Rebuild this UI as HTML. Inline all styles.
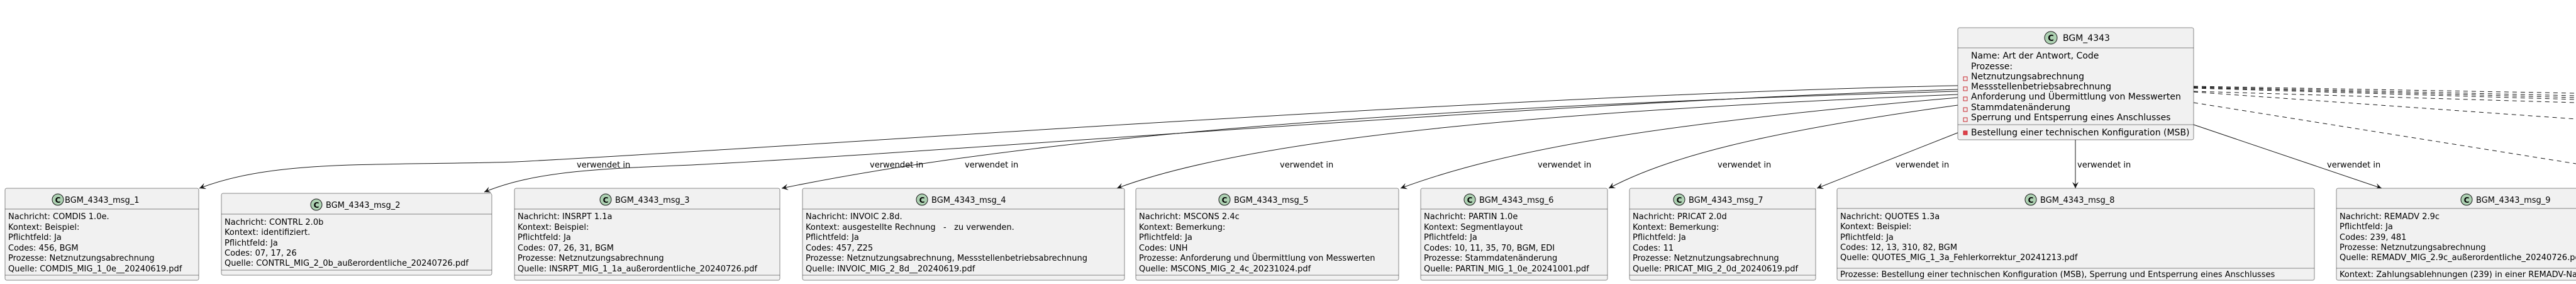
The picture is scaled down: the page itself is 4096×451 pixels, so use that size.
<!DOCTYPE html>
<html><head><meta charset="utf-8"><style>
html,body{margin:0;padding:0;background:#fff;}
svg{display:block;}
text{font-family:"DejaVu Sans","Liberation Sans",sans-serif;fill:#000;}
.b{fill:#F1F1F1;stroke:#181818;stroke-width:0.5;}
.s{stroke:#181818;stroke-width:0.5;}
.t{font-size:13px;}
.h{font-size:14px;}
.l{font-size:13px;}
.c{fill:none;stroke:#181818;stroke-width:1;}
.d{fill:none;stroke:#181818;stroke-width:1;stroke-dasharray:7,6;}
</style></head><body>
<svg width="4096" height="451" viewBox="0 0 4096 451" xmlns="http://www.w3.org/2000/svg">
<defs>
<marker id="a" markerWidth="12" markerHeight="10" refX="10" refY="5" orient="auto" markerUnits="userSpaceOnUse">
<path d="M0,0 L10,5 L0,10 L4,5 z" fill="#181818"/>
</marker>
</defs>

<!-- connectors -->
<path class="c" marker-end="url(#a)" d="M3113,136 C2400,150 1300,232 820,257 C600,264 440,252 317,299"/>
<path class="c" marker-end="url(#a)" d="M3113,142 C2500,160 1500,242 1100,262 C950,268 850,272 770,305"/>
<path class="c" marker-end="url(#a)" d="M3113,145 C2400,165 1700,205 1243,299"/>
<path class="c" marker-end="url(#a)" d="M3113,150 C2500,175 2000,215 1776,299"/>
<path class="c" marker-end="url(#a)" d="M3113,155 C2650,195 2400,235 2227,299"/>
<path class="c" marker-end="url(#a)" d="M3113,167 C2800,210 2650,250 2558,299"/>
<path class="c" marker-end="url(#a)" d="M3115,210 L2889,299"/>
<path class="c" marker-end="url(#a)" d="M3300,222 L3300,299"/>
<path class="c" marker-end="url(#a)" d="M3488,198 L3787,299"/>

<path class="d" d="M3488,137 L4096,148"/>
<path class="d" d="M3488,138 L4096,152"/>
<path class="d" d="M3488,139 L4096,155"/>
<path class="d" d="M3488,140 L4096,158"/>
<path class="d" d="M3488,145 L4096,163"/>
<path class="d" d="M3488,146 L4096,189"/>
<path class="d" d="M3488,163 L4096,260"/>

<g class="l">
<text x="917" y="266">verwendet in</text>
<text x="1383" y="266">verwendet in</text>
<text x="1534" y="266">verwendet in</text>
<text x="2035" y="266">verwendet in</text>
<text x="2445" y="266">verwendet in</text>
<text x="2731" y="266">verwendet in</text>
<text x="3014" y="266">verwendet in</text>
<text x="3303" y="266">verwendet in</text>
<text x="3700" y="266">verwendet in</text>
</g>

<!-- main box -->
<rect class="b" x="3113" y="44" width="375" height="178" rx="2.5"/>
<line class="s" x1="3113" y1="76" x2="3488" y2="76"/>
<line class="s" x1="3113" y1="198" x2="3488" y2="198"/>
<circle cx="3261" cy="60" r="10" fill="#ADD1B2" stroke="#181818" stroke-width="1"/>
<text x="3261" y="65" text-anchor="middle" style="font-size:13px;font-weight:bold">C</text>
<text class="h" x="3280" y="65">BGM_4343</text>
<g class="h">
<text x="3134" y="93">Name: Art der Antwort, Code</text>
<text x="3134" y="110">Prozesse:</text>
<text x="3134" y="126">Netznutzungsabrechnung</text>
<text x="3134" y="142">Messstellenbetriebsabrechnung</text>
<text x="3134" y="158">Anforderung und Übermittlung von Messwerten</text>
<text x="3134" y="175">Stammdatenänderung</text>
<text x="3134" y="191">Sperrung und Entsperrung eines Anschlusses</text>
<text x="3134" y="215">Bestellung einer technischen Konfiguration (MSB)</text>
</g>
<g fill="none" stroke="#C82930" stroke-width="1">
<rect x="3122" y="122" width="6" height="6"/>
<rect x="3122" y="138" width="6" height="6"/>
<rect x="3122" y="154" width="6" height="6"/>
<rect x="3122" y="171" width="6" height="6"/>
<rect x="3122" y="187" width="6" height="6"/>
</g>
<rect x="3122" y="208" width="6" height="6" fill="#E0404A" stroke="#C82930"/>

<!-- msg_1 -->
<rect class="b" x="8" y="299" width="308" height="146" rx="2.5"/>
<line class="s" x1="8" y1="332" x2="316" y2="332"/>
<line class="s" x1="8" y1="437" x2="316" y2="437"/>
<circle cx="92" cy="317" r="9" fill="#ADD1B2" stroke="#181818"/>
<text x="92" y="322" text-anchor="middle" style="font-size:12px;font-weight:bold">C</text>
<text class="t" x="103" y="322">BGM_4343_msg_1</text>
<g class="t">
<text x="13" y="348">Nachricht: COMDIS 1.0e.</text>
<text x="13" y="365">Kontext: Beispiel:</text>
<text x="13" y="381">Pflichtfeld: Ja</text>
<text x="13" y="398">Codes: 456, BGM</text>
<text x="13" y="414">Prozesse: Netznutzungsabrechnung</text>
<text x="13" y="431">Quelle: COMDIS_MIG_1_0e__20240619.pdf</text>
</g>

<!-- msg_2 -->
<rect class="b" x="352" y="307" width="430" height="130" rx="2.5"/>
<line class="s" x1="352" y1="340" x2="782" y2="340"/>
<line class="s" x1="352" y1="429" x2="782" y2="429"/>
<circle cx="503" cy="325" r="9" fill="#ADD1B2" stroke="#181818"/>
<text x="503" y="330" text-anchor="middle" style="font-size:12px;font-weight:bold">C</text>
<text class="t" x="518" y="330">BGM_4343_msg_2</text>
<g class="t">
<text x="357" y="357">Nachricht: CONTRL 2.0b</text>
<text x="357" y="373">Kontext: identifiziert.</text>
<text x="357" y="390">Pflichtfeld: Ja</text>
<text x="357" y="406">Codes: 07, 17, 26</text>
<text x="357" y="422">Quelle: CONTRL_MIG_2_0b_außerordentliche_20240726.pdf</text>
</g>

<!-- msg_3 -->
<rect class="b" x="818" y="299" width="422" height="146" rx="2.5"/>
<line class="s" x1="818" y1="332" x2="1240" y2="332"/>
<line class="s" x1="818" y1="437" x2="1240" y2="437"/>
<circle cx="963" cy="317" r="9" fill="#ADD1B2" stroke="#181818"/>
<text x="963" y="322" text-anchor="middle" style="font-size:12px;font-weight:bold">C</text>
<text class="t" x="978" y="322">BGM_4343_msg_3</text>
<g class="t">
<text x="823" y="348">Nachricht: INSRPT 1.1a</text>
<text x="823" y="365">Kontext: Beispiel:</text>
<text x="823" y="381">Pflichtfeld: Ja</text>
<text x="823" y="398">Codes: 07, 26, 31, BGM</text>
<text x="823" y="414">Prozesse: Netznutzungsabrechnung</text>
<text x="823" y="431">Quelle: INSRPT_MIG_1_1a_außerordentliche_20240726.pdf</text>
</g>

<!-- msg_4 -->
<rect class="b" x="1276" y="299" width="512" height="146" rx="2.5"/>
<line class="s" x1="1276" y1="332" x2="1788" y2="332"/>
<line class="s" x1="1276" y1="437" x2="1788" y2="437"/>
<circle cx="1466" cy="317" r="9" fill="#ADD1B2" stroke="#181818"/>
<text x="1466" y="322" text-anchor="middle" style="font-size:12px;font-weight:bold">C</text>
<text class="t" x="1481" y="322">BGM_4343_msg_4</text>
<g class="t">
<text x="1281" y="348">Nachricht: INVOIC 2.8d.</text>
<text x="1281" y="365" xml:space="preserve">Kontext: ausgestellte Rechnung   -   zu verwenden.</text>
<text x="1281" y="381">Pflichtfeld: Ja</text>
<text x="1281" y="398">Codes: 457, Z25</text>
<text x="1281" y="414">Prozesse: Netznutzungsabrechnung, Messstellenbetriebsabrechnung</text>
<text x="1281" y="431">Quelle: INVOIC_MIG_2_8d__20240619.pdf</text>
</g>

<!-- msg_5 -->
<rect class="b" x="1806" y="299" width="418" height="146" rx="2.5"/>
<line class="s" x1="1806" y1="332" x2="2224" y2="332"/>
<line class="s" x1="1806" y1="437" x2="2224" y2="437"/>
<circle cx="1947" cy="317" r="9" fill="#ADD1B2" stroke="#181818"/>
<text x="1947" y="322" text-anchor="middle" style="font-size:12px;font-weight:bold">C</text>
<text class="t" x="1962" y="322">BGM_4343_msg_5</text>
<g class="t">
<text x="1811" y="348">Nachricht: MSCONS 2.4c</text>
<text x="1811" y="365">Kontext: Bemerkung:</text>
<text x="1811" y="381">Pflichtfeld: Ja</text>
<text x="1811" y="398">Codes: UNH</text>
<text x="1811" y="414">Prozesse: Anforderung und Übermittlung von Messwerten</text>
<text x="1811" y="431">Quelle: MSCONS_MIG_2_4c_20231024.pdf</text>
</g>

<!-- msg_6 -->
<rect class="b" x="2259" y="299" width="297" height="146" rx="2.5"/>
<line class="s" x1="2259" y1="332" x2="2556" y2="332"/>
<line class="s" x1="2259" y1="437" x2="2556" y2="437"/>
<circle cx="2337" cy="317" r="9" fill="#ADD1B2" stroke="#181818"/>
<text x="2337" y="322" text-anchor="middle" style="font-size:12px;font-weight:bold">C</text>
<text class="t" x="2352" y="322">BGM_4343_msg_6</text>
<g class="t">
<text x="2264" y="348">Nachricht: PARTIN 1.0e</text>
<text x="2264" y="365">Kontext: Segmentlayout</text>
<text x="2264" y="381">Pflichtfeld: Ja</text>
<text x="2264" y="398">Codes: 10, 11, 35, 70, BGM, EDI</text>
<text x="2264" y="414">Prozesse: Stammdatenänderung</text>
<text x="2264" y="431">Quelle: PARTIN_MIG_1_0e_20241001.pdf</text>
</g>

<!-- msg_7 -->
<rect class="b" x="2591" y="299" width="296" height="146" rx="2.5"/>
<line class="s" x1="2591" y1="332" x2="2887" y2="332"/>
<line class="s" x1="2591" y1="437" x2="2887" y2="437"/>
<circle cx="2670" cy="317" r="9" fill="#ADD1B2" stroke="#181818"/>
<text x="2670" y="322" text-anchor="middle" style="font-size:12px;font-weight:bold">C</text>
<text class="t" x="2685" y="322">BGM_4343_msg_7</text>
<g class="t">
<text x="2596" y="348">Nachricht: PRICAT 2.0d</text>
<text x="2596" y="365">Kontext: Bemerkung:</text>
<text x="2596" y="381">Pflichtfeld: Ja</text>
<text x="2596" y="398">Codes: 11</text>
<text x="2596" y="414">Prozesse: Netznutzungsabrechnung</text>
<text x="2596" y="431">Quelle: PRICAT_MIG_2_0d_20240619.pdf</text>
</g>

<!-- msg_8 -->
<rect class="b" x="2921" y="299" width="759" height="146" rx="2.5"/>
<line class="s" x1="2921" y1="331" x2="3680" y2="331"/>
<line class="s" x1="2921" y1="426" x2="3680" y2="426"/>
<circle cx="3229" cy="317" r="9" fill="#ADD1B2" stroke="#181818"/>
<text x="3229" y="322" text-anchor="middle" style="font-size:12px;font-weight:bold">C</text>
<text class="t" x="3244" y="322">BGM_4343_msg_8</text>
<g class="t">
<text x="2926" y="348">Nachricht: QUOTES 1.3a</text>
<text x="2926" y="364">Kontext: Beispiel:</text>
<text x="2926" y="381">Pflichtfeld: Ja</text>
<text x="2926" y="397">Codes: 12, 13, 310, 82, BGM</text>
<text x="2926" y="413">Quelle: QUOTES_MIG_1_3a_Fehlerkorrektur_20241213.pdf</text>
<text x="2926" y="440">Prozesse: Bestellung einer technischen Konfiguration (MSB), Sperrung und Entsperrung eines Anschlusses</text>
</g>

<!-- msg_9 -->
<rect class="b" x="3715" y="299" width="520" height="146" rx="2.5"/>
<line class="s" x1="3715" y1="331" x2="4235" y2="331"/>
<line class="s" x1="3715" y1="426" x2="4235" y2="426"/>
<circle cx="3922" cy="317" r="9" fill="#ADD1B2" stroke="#181818"/>
<text x="3922" y="322" text-anchor="middle" style="font-size:12px;font-weight:bold">C</text>
<text class="t" x="3937" y="322">BGM_4343_msg_9</text>
<g class="t">
<text x="3720" y="348">Nachricht: REMADV 2.9c</text>
<text x="3720" y="364">Pflichtfeld: Ja</text>
<text x="3720" y="381">Codes: 239, 481</text>
<text x="3720" y="397">Prozesse: Netznutzungsabrechnung</text>
<text x="3720" y="413">Quelle: REMADV_MIG_2.9c_außerordentliche_20240726.pdf</text>
<text x="3720" y="440">Kontext: Zahlungsablehnungen (239) in einer REMADV-Nachricht</text>
</g>
</svg>
</body></html>
